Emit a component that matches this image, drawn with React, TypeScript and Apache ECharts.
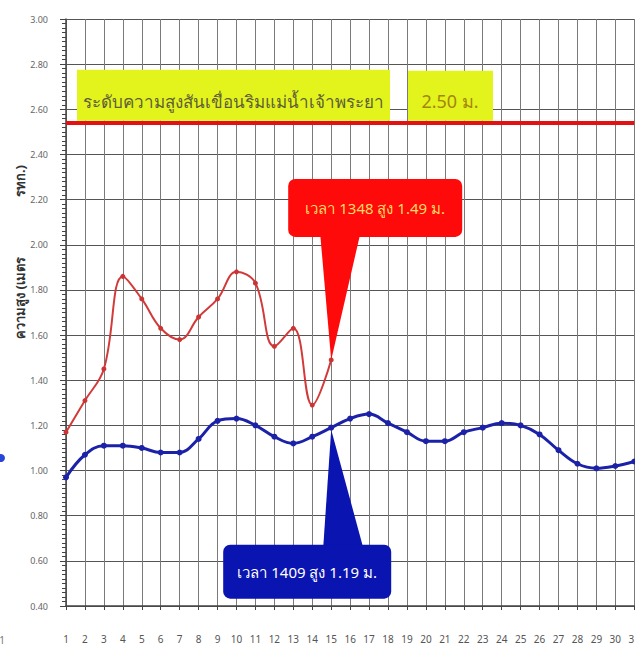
import React, { useEffect, useRef } from "react";
import * as echarts from "echarts";

const categories = ["1","2","3","4","5","6","7","8","9","10","11","12","13","14","15","16","17","18","19","20","21","22","23","24","25","26","27","28","29","30","31"];
const redLevel = [1.17, 1.31, 1.45, 1.86, 1.76, 1.63, 1.58, 1.68, 1.76, 1.88, 1.83, 1.55, 1.63, 1.29, 1.49];
const blueLevel = [0.97, 1.07, 1.11, 1.11, 1.10, 1.08, 1.08, 1.14, 1.22, 1.23, 1.20, 1.15, 1.12, 1.15, 1.19, 1.23, 1.25, 1.21, 1.17, 1.13, 1.13, 1.17, 1.19, 1.21, 1.20, 1.16, 1.09, 1.03, 1.01, 1.02, 1.04];
const bankLevel = 2.54;
const yMin = 0.4;
const yMax = 3.0;
const yStep = 0.2;

const bankLabel = "ระดับความสูงสันเขื่อนริมแม่น้ำเจ้าพระยา";
const bankValueLabel = "2.50 ม.";
const redCallout = "เวลา 1348 สูง 1.49 ม.";
const blueCallout = "เวลา 1409 สูง 1.19 ม.";
const yNameMain = "ความสูง (เมตร";
const yNameTail = "รทก.)";
const calloutIndex = 14;

const FONT = "'Liberation Sans Narrow', 'Noto Sans', 'DejaVu Sans', sans-serif";

function txt(x: number, y: number, text: string, fill: string, size: number, extra: any = {}) {
  return {
    type: "text",
    x,
    y,
    z: 110,
    ...extra,
    style: {
      text,
      fill,
      fontSize: size,
      fontFamily: FONT,
      fontWeight: extra.weight || "normal",
      align: "center",
      verticalAlign: "middle",
      textAlign: "center",
      textVerticalAlign: "middle",
    },
  };
}

export default function App() {
  const ref = useRef<HTMLDivElement>(null);
  useEffect(() => {
    if (!ref.current) return;
    const chart = echarts.init(ref.current, null, { renderer: "svg" });
    chart.setOption({
      animation: false,
      backgroundColor: "#ffffff",
      grid: { left: 66, right: 0, top: 19, bottom: 49 },
      xAxis: {
        type: "category",
        data: categories,
        boundaryGap: false,
        axisLine: { lineStyle: { color: "#444", width: 1.5 } },
        axisTick: { show: true, length: 4, lineStyle: { color: "#444" } },
        axisLabel: { color: "#555", fontSize: 10, margin: 28, fontFamily: FONT, interval: 0 },
        splitLine: { show: true, lineStyle: { color: "#7a7a7a", width: 1 } },
      },
      yAxis: {
        type: "value",
        min: yMin,
        max: yMax,
        interval: yStep,
        axisLine: { show: true, lineStyle: { color: "#444", width: 1.5 } },
        axisTick: { show: true, length: 6, lineStyle: { color: "#444" } },
        minorTick: { show: true, splitNumber: 10, length: 4, lineStyle: { color: "#444" } },
        axisLabel: {
          color: "#666",
          fontSize: 9,
          margin: 18,
          fontFamily: FONT,
          formatter: (v: number) => v.toFixed(2),
        },
        splitLine: { show: true, lineStyle: { color: "#555", width: 1.2 } },
      },
      series: [
        {
          type: "line",
          data: redLevel,
          smooth: 0.4,
          symbol: "circle",
          symbolSize: 5,
          itemStyle: { color: "#cc3333" },
          lineStyle: { color: "#d23a3a", width: 2 },
          z: 5,
          markLine: {
            silent: true,
            symbol: "none",
            label: { show: false },
            lineStyle: { color: "#e31212", width: 4, type: "solid" },
            data: [{ yAxis: bankLevel }],
          },
        },
        {
          type: "line",
          data: blueLevel,
          smooth: 0.4,
          symbol: "circle",
          symbolSize: 6,
          itemStyle: { color: "#1c22a8" },
          lineStyle: { color: "#1c22a8", width: 3 },
          z: 4,
        },
      ],
    });

    const [rx, ry] = chart.convertToPixel({ gridIndex: 0 }, [categories[calloutIndex], redLevel[calloutIndex]]) as number[];
    const [bx, by] = chart.convertToPixel({ gridIndex: 0 }, [categories[calloutIndex], blueLevel[calloutIndex]]) as number[];
    const [gx, lineY] = chart.convertToPixel({ gridIndex: 0 }, [categories[0], bankLevel]) as number[];

    chart.setOption({
      graphic: [
        // yellow title boxes
        { type: "rect", z: 100, shape: { x: gx + 11, y: lineY - 53, width: 313, height: 51 }, style: { fill: "#e3f41c" } },
        txt(gx + 167, lineY - 21, bankLabel, "#5e5e38", 17),
        { type: "rect", z: 100, shape: { x: gx + 342, y: lineY - 52, width: 85, height: 50 }, style: { fill: "#e3f41c" } },
        txt(gx + 384, lineY - 22, bankValueLabel, "#a3860c", 18),
        // red callout
        { type: "polygon", z: 100, shape: { points: [[rx - 11, ry - 126], [rx + 29, ry - 126], [rx, ry]] }, style: { fill: "#ff0a0a" } },
        { type: "rect", z: 100, shape: { x: rx - 43, y: ry - 181, width: 174, height: 58, r: 7 }, style: { fill: "#ff0a0a" } },
        txt(rx + 44, ry - 152, redCallout, "#ffd966", 15),
        // blue callout
        { type: "polygon", z: 100, shape: { points: [[bx - 8, by + 120], [bx + 32, by + 120], [bx, by + 2]] }, style: { fill: "#0a14b0" } },
        { type: "rect", z: 100, shape: { x: bx - 108, y: by + 117, width: 168, height: 54, r: 7 }, style: { fill: "#0a14b0" } },
        txt(bx - 24, by + 144, blueCallout, "#ffffff", 15),
        // y axis title
        txt(20, 298, yNameMain, "#333", 13, { rotation: Math.PI / 2, weight: "bold" }),
        txt(20, 181, yNameTail, "#333", 13, { rotation: Math.PI / 2, weight: "bold" }),
        // crop remnants at the left edge
        { type: "circle", z: 100, shape: { cx: 1, cy: 458, r: 4 }, style: { fill: "#2a46d8" } },
        txt(2, 640, "1", "#777", 10),
      ],
    });
    return () => chart.dispose();
  }, []);
  return <div ref={ref} style={{ position: "fixed", left: 0, top: 0, width: 643, height: 655 }} />;
}
